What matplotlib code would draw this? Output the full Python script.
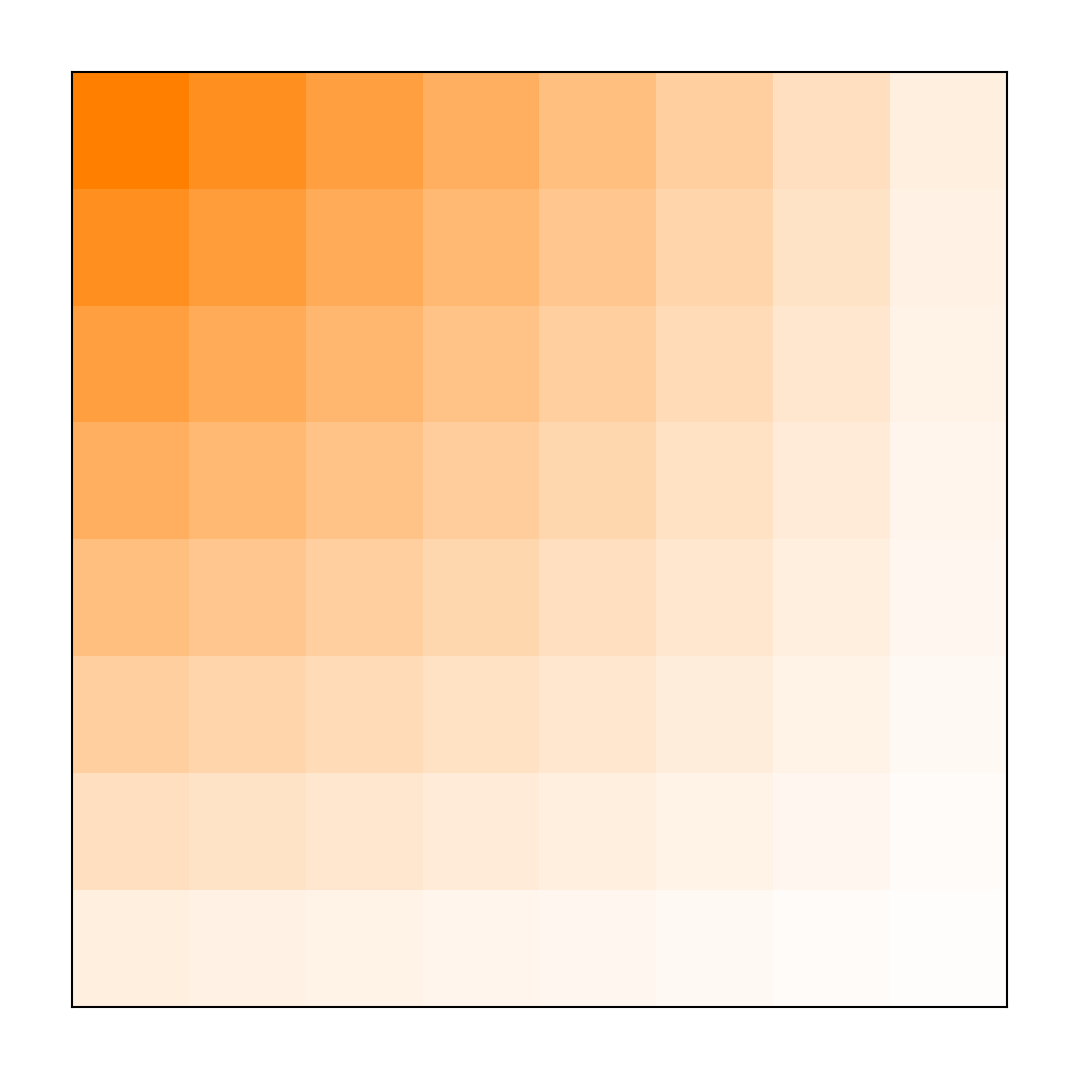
import matplotlib
matplotlib.use('Agg')
import matplotlib.pyplot as plt
import numpy as np
from matplotlib.colors import LinearSegmentedColormap

# cell intensities (row 0 = top)
row0 = [1.000, 0.875, 0.750, 0.625, 0.500, 0.375, 0.250, 0.125]
row1 = [0.875, 0.766, 0.656, 0.547, 0.438, 0.328, 0.219, 0.109]
row2 = [0.750, 0.656, 0.563, 0.469, 0.375, 0.281, 0.188, 0.094]
row3 = [0.625, 0.547, 0.469, 0.391, 0.313, 0.234, 0.156, 0.078]
row4 = [0.500, 0.438, 0.375, 0.313, 0.250, 0.188, 0.125, 0.063]
row5 = [0.375, 0.328, 0.281, 0.234, 0.188, 0.141, 0.094, 0.047]
row6 = [0.250, 0.219, 0.188, 0.156, 0.125, 0.094, 0.063, 0.031]
row7 = [0.125, 0.109, 0.094, 0.078, 0.063, 0.047, 0.031, 0.016]

values = np.array([row0, row1, row2, row3, row4, row5, row6, row7])

cmap = LinearSegmentedColormap.from_list('white_orange', ['#FFFFFF', '#FF8000'])

fig = plt.figure(figsize=(10.8, 10.8), dpi=100)
ax = fig.add_axes([72 / 1080, 73 / 1080, 935 / 1080, 935 / 1080])
ax.imshow(values, cmap=cmap, vmin=0, vmax=1, aspect='auto',
          interpolation='nearest')
ax.set_xticks([])
ax.set_yticks([])
for sp in ax.spines.values():
    sp.set_linewidth(1.5)
    sp.set_color('black')

fig.savefig('out.png', dpi=100)
